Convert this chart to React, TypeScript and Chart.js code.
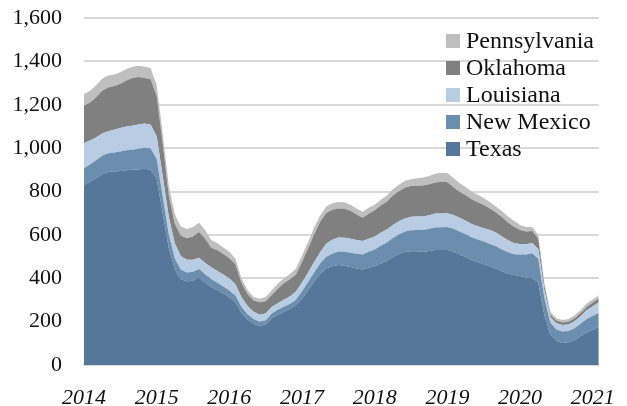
import { useEffect, useRef } from 'react';
import { Chart, registerables } from 'chart.js';

Chart.register(...registerables);

// Monthly rig counts, Jan 2014 – Feb 2021
const START_YEAR = 2014;
const YEAR_TICKS = [2014, 2015, 2016, 2017, 2018, 2019, 2020, 2021];
const Y_TICK_STEP = 200;

const TEXAS = [
  830, 845, 862, 880, 890, 892, 895, 898, 900, 902, 905, 900,
  860, 700, 540, 440, 395, 385, 390, 405, 380, 360, 345, 330,
  312, 290, 240, 210, 190, 180, 188, 215, 232, 246, 258, 275,
  305, 345, 385, 420, 445, 455, 461, 458, 452, 445, 440, 448,
  455, 468, 480, 498, 512, 522, 525, 525, 522, 526, 530, 530,
  530, 522, 510, 498, 485, 475, 465, 455, 445, 432, 422, 415,
  410, 402, 400, 380, 230, 140, 112, 102, 105, 115, 132, 150,
  162, 175,
];
const NEW_MEXICO = [
  78, 80, 82, 85, 86, 88, 90, 92, 93, 95, 97, 98,
  90, 75, 62, 50, 44, 42, 40, 38, 38, 36, 34, 32,
  32, 30, 27, 24, 22, 20, 18, 22, 23, 23, 23, 26,
  35, 38, 42, 48, 54, 58, 62, 64, 66, 68, 70, 74,
  78, 82, 85, 88, 90, 93, 96, 98, 100, 102, 104, 105,
  106, 106, 106, 105, 104, 104, 104, 103, 102, 100, 98, 96,
  100, 108, 115, 110, 80, 55, 52, 52, 52, 55, 58, 62,
  64, 66,
];
const LOUISIANA = [
  115, 110, 105, 102, 102, 105, 108, 110, 110, 112, 112, 110,
  105, 95, 80, 70, 62, 58, 55, 52, 52, 55, 55, 55,
  55, 52, 45, 38, 33, 32, 32, 30, 30, 32, 35, 38,
  40, 44, 48, 52, 60, 65, 65, 65, 64, 63, 62, 60,
  59, 60, 60, 60, 61, 61, 62, 62, 63, 63, 64, 64,
  64, 64, 63, 62, 61, 61, 62, 64, 64, 60, 55, 50,
  48, 47, 47, 45, 35, 25, 28, 30, 30, 32, 35, 40,
  45, 48,
];
const OKLAHOMA = [
  172, 175, 186, 198, 202, 201, 204, 212, 220, 219, 209, 210,
  185, 150, 100, 90, 95, 100, 108, 118, 112, 90, 95, 95,
  93, 93, 66, 54, 52, 57, 56, 56, 67, 76, 79, 78,
  95, 110, 128, 140, 142, 138, 134, 134, 129, 118, 107, 115,
  121, 125, 128, 135, 138, 143, 142, 142, 143, 142, 144, 146,
  143, 128, 120, 118, 114, 111, 107, 100, 92, 90, 82, 76,
  65, 59, 56, 48, 20, 12, 12, 12, 13, 14, 15, 16,
  17, 19,
];
const PENNSYLVANIA = [
  55, 55, 55, 55, 55, 54, 53, 53, 52, 52, 52, 52,
  50, 50, 45, 45, 43, 42, 43, 43, 40, 35, 33, 30,
  30, 25, 22, 20, 17, 16, 20, 22, 23, 23, 25, 28,
  30, 30, 31, 31, 30, 30, 30, 29, 28, 28, 28, 28,
  26, 27, 28, 29, 30, 30, 32, 34, 36, 38, 40, 42,
  42, 42, 40, 38, 36, 34, 32, 30, 28, 28, 28, 28,
  22, 20, 18, 17, 15, 13, 12, 12, 12, 13, 14, 15,
  14, 14,
];

const SERIES = [
  { label: 'Texas', data: TEXAS, color: '#557799' },
  { label: 'New Mexico', data: NEW_MEXICO, color: '#6B8EAE' },
  { label: 'Louisiana', data: LOUISIANA, color: '#B8CCE4' },
  { label: 'Oklahoma', data: OKLAHOMA, color: '#808080' },
  { label: 'Pennsylvania', data: PENNSYLVANIA, color: '#BFBFBF' },
];

const FONT = '"Liberation Serif", "Times New Roman", serif';
const TEXT_COLOR = '#111111';
const GRID_COLOR = '#D9D9D9';

export default function App() {
  const canvasRef = useRef<HTMLCanvasElement | null>(null);

  useEffect(() => {
    if (!canvasRef.current) return;
    const xs = TEXAS.map((_, i) => START_YEAR + i / 12);
    const chart = new Chart(canvasRef.current, {
      type: 'line',
      data: {
        datasets: SERIES.map((s, idx) => ({
          label: s.label,
          data: s.data.map((v, i) => ({ x: xs[i], y: v })),
          backgroundColor: s.color,
          borderColor: s.color,
          borderWidth: 0,
          pointRadius: 0,
          fill: idx === 0 ? 'origin' : '-1',
          tension: 0,
        })),
      },
      options: {
        animation: false,
        responsive: true,
        maintainAspectRatio: false,
        layout: { padding: { top: 18, right: 20, left: 0, bottom: 0 } },
        plugins: {
          legend: { display: false },
          tooltip: { enabled: false },
        },
        scales: {
          x: {
            type: 'linear',
            min: START_YEAR,
            max: xs[xs.length - 1],
            grid: { display: false },
            border: { display: true, color: GRID_COLOR, width: 2 },
            afterBuildTicks: (scale: any) => {
              scale.ticks = YEAR_TICKS.map((v) => ({ value: v }));
            },
            afterFit: (scale: any) => {
              scale.height = 41;
            },
            ticks: {
              autoSkip: false,
              maxRotation: 0,
              padding: 12,
              color: TEXT_COLOR,
              font: { family: FONT, size: 22, style: 'italic' },
              callback: (v: any) => String(v),
            },
          },
          y: {
            stacked: true,
            min: 0,
            max: 1600,
            grid: { color: GRID_COLOR, lineWidth: 2, drawTicks: false },
            border: { display: false },
            afterFit: (scale: any) => {
              scale.width = 84;
              scale.paddingTop = 0;
              scale.paddingBottom = 0;
            },
            ticks: {
              stepSize: Y_TICK_STEP,
              padding: 22,
              color: TEXT_COLOR,
              font: { family: FONT, size: 22 },
              callback: (v: any) => Number(v).toLocaleString('en-US'),
            },
          },
        },
      },
    });
    return () => chart.destroy();
  }, []);

  const legendItems = [...SERIES].reverse();

  return (
    <div style={{ position: 'absolute', left: 0, top: 0, width: 627, height: 406, background: '#fff' }}>
      <canvas ref={canvasRef} />
      <div style={{ position: 'absolute', left: 446, top: 27, fontFamily: FONT, fontSize: 24, color: TEXT_COLOR }}>
        {legendItems.map((s) => (
          <div key={s.label} style={{ display: 'flex', alignItems: 'center', height: 27, lineHeight: '27px' }}>
            <span style={{ display: 'inline-block', width: 14, height: 14, background: s.color, marginRight: 6 }} />
            <span>{s.label}</span>
          </div>
        ))}
      </div>
    </div>
  );
}
